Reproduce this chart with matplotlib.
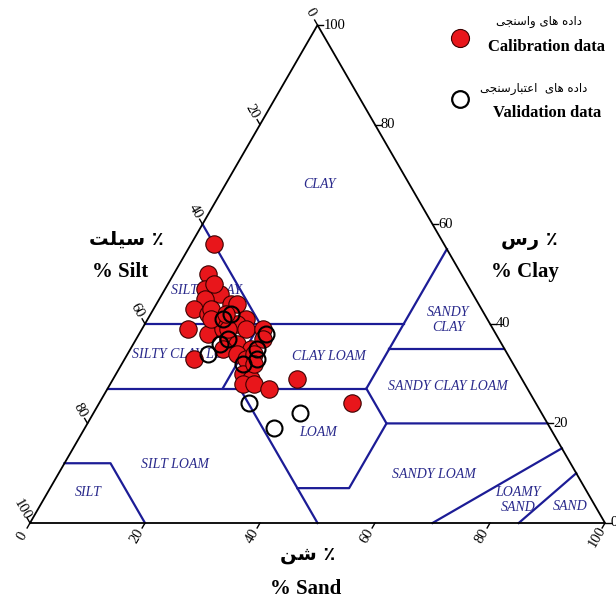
import numpy as np
import matplotlib
matplotlib.use("Agg")
import matplotlib.pyplot as plt

plt.rcParams['font.family'] = ['Liberation Serif', 'DejaVu Sans']

# ---------------- data (percent) ----------------
cal_sand = [4, 6, 7, 10, 8, 7, 10, 10, 13, 14, 17, 8, 12, 14, 16, 18, 21, 16, 18, 21,
            22, 12, 16, 19, 21, 22, 22, 24, 23, 25, 28, 32, 15, 11, 44, 13, 23, 8]
cal_clay = [56, 50, 47, 46, 45, 43, 42, 43, 44, 44, 41, 39, 38, 39, 40, 39, 39, 37, 36, 35,
            37, 33, 35, 34, 33, 34, 30, 29, 28, 28, 27, 29, 39, 41, 24, 42, 32, 48]
val_sand = [13, 14, 22, 16, 15, 14, 22, 23, 21, 26, 36, 33]
val_clay = [41, 42, 38, 37, 36, 34, 35, 33, 32, 24, 22, 19]

tick_values = [0, 20, 40, 60, 80, 100]

# USDA texture class boundaries as (sand, clay) polylines
boundaries = [
    [(0, 40), (45, 40)],
    [(20, 40), (0, 60)],
    [(45, 35), (45, 55)],
    [(45, 35), (65, 35)],
    [(0, 27), (45, 27)],
    [(20, 27), (20, 40)],
    [(45, 27), (45, 35)],
    [(45, 27), (52, 20), (80, 20)],
    [(23, 27), (50, 0)],
    [(43, 7), (52, 7), (52, 20)],
    [(0, 12), (8, 12), (20, 0)],
    [(70, 0), (85, 15)],
    [(85, 0), (90, 10)],
]

# Persian labels (logical order, contextual presentation forms)
fa_cal = "\uFEA9\uFE8D\uFEA9\uFEE9 \uFEEB\uFE8E\uFEEF \uFEED\uFE8D\uFEB3\uFEE8\uFEA0\uFEF0"
fa_val = ("\uFEA9\uFE8D\uFEA9\uFEE9 \uFEEB\uFE8E\uFEEF  "
          "\uFE8D\uFECB\uFE98\uFE92\uFE8E\uFEAD\uFEB3\uFEE8\uFEA0\uFEF0")
fa_silt = "\u066A \uFEB3\uFEF4\uFEE0\uFE96"
fa_clay = "\u066A \uFEAD\uFEB1"
fa_sand = "\u066A \uFEB7\uFEE6"


def vis(s):
    return s[::-1]


# ---------------- figure ----------------
W, H = 616, 600
PX, X0, Y0 = 5.75, 30, 523
fig = plt.figure(figsize=(W / 100, H / 100), dpi=100)
ax = fig.add_axes([0, 0, 1, 1])
ax.set_xlim(-X0 / PX, (W - X0) / PX)
ax.set_ylim(-(H - Y0) / PX, Y0 / PX)
ax.axis('off')

R3 = np.sqrt(3) / 2


def tern(sand, clay):
    sand = np.asarray(sand, float)
    clay = np.asarray(clay, float)
    return sand + clay / 2, clay * R3


def fpos(px, py):
    return px / W, 1 - py / H


# triangle
tx, ty = tern([0, 100, 0, 0], [0, 0, 100, 0])
ax.plot(tx, ty, color='black', lw=1.3, zorder=3, solid_joinstyle='miter')

# boundaries
navy = '#1c1c96'
for seg in boundaries:
    s, c = zip(*seg)
    bx, by = tern(s, c)
    ax.plot(bx, by, color=navy, lw=1.6, zorder=2)

# ticks
tick_kw = dict(fontsize=10.5, color='black', zorder=4)
dl = 1.0
for v in tick_values:
    # sand (bottom)
    x, y = tern(v, 0)
    d = np.array([-0.5, -R3])
    ax.plot([x, x + d[0] * dl], [y, y + d[1] * dl], color='black', lw=1)
    ax.text(x + d[0] * 2.7, y + d[1] * 2.7, str(v), rotation=60,
            ha='center', va='center', rotation_mode='anchor', **tick_kw)
    # silt (left)
    x, y = tern(0, 100 - v)
    d = np.array([-0.5, R3])
    ax.plot([x, x + d[0] * dl], [y, y + d[1] * dl], color='black', lw=1)
    ax.text(x + d[0] * 2.6, y + d[1] * 2.6, str(v), rotation=-60,
            ha='center', va='center', rotation_mode='anchor', **tick_kw)
    # clay (right)
    x, y = tern(100 - v, v)
    ax.plot([x, x + dl], [y, y], color='black', lw=1)
    ax.text(x + 1.0, y, str(v), ha='left', va='center', **tick_kw)

# class names
cls_kw = dict(fontsize=10, style='italic', color='#2a2a8c', ha='center', va='center',
              transform=fig.transFigure, zorder=1, linespacing=1.25)
class_labels = [
    ("CLAY", 319, 184), ("SILTY CLAY", 206, 291), ("SILTY CLAY LOAM", 188, 355),
    ("CLAY LOAM", 329, 356), ("SANDY\nCLAY", 448, 320), ("SANDY CLAY LOAM", 448, 386),
    ("LOAM", 318, 433), ("SILT LOAM", 175, 465), ("SILT", 88, 493),
    ("SANDY LOAM", 434, 474), ("LOAMY\nSAND", 518, 500), ("SAND", 570, 506),
]
for txt, px, py in class_labels:
    ax.text(*fpos(px, py), txt, **cls_kw)

# data points
cx, cy = tern(cal_sand, cal_clay)
ax.plot(cx, cy, 'o', ms=12.5, mfc='#e8161b', mec='#3a0000', mew=0.8, zorder=5, ls='none')
vx, vy = tern(val_sand, val_clay)
ax.plot(vx, vy, 'o', ms=11.5, mfc='none', mec='black', mew=1.5, zorder=6, ls='none')

# axis titles
fa_kw = dict(family=['DejaVu Sans'], fontsize=14, fontweight='bold', ha='center',
             va='center', transform=fig.transFigure)
en_kw = dict(fontsize=15, fontweight='bold', ha='center', va='center',
             transform=fig.transFigure)
ax.text(*fpos(126, 239), vis(fa_silt), **fa_kw)
ax.text(*fpos(120, 272), "% Silt", **en_kw)
ax.text(*fpos(529, 241), vis(fa_clay), **fa_kw)
ax.text(*fpos(525, 272), "% Clay", **en_kw)
ax.text(*fpos(308, 555), vis(fa_sand), **fa_kw)
ax.text(*fpos(306, 589), "% Sand", **en_kw)

# legend
ax.plot(*fpos(460, 38), 'o', ms=13, mfc='#e8161b', mec='#3a0000', mew=0.8,
        transform=fig.transFigure, clip_on=False)
ax.plot(*fpos(460, 99), 'o', ms=12, mfc='none', mec='black', mew=1.6,
        transform=fig.transFigure, clip_on=False)
ax.text(*fpos(539, 22), vis(fa_cal), family=['DejaVu Sans'], fontsize=8.5,
        ha='center', va='center', transform=fig.transFigure)
ax.text(*fpos(547, 47), "Calibration data", fontsize=12, fontweight='bold',
        ha='center', va='center', transform=fig.transFigure)
ax.text(*fpos(534, 88), vis(fa_val), family=['DejaVu Sans'], fontsize=8.5,
        ha='center', va='center', transform=fig.transFigure)
ax.text(*fpos(547, 113), "Validation data", fontsize=12, fontweight='bold',
        ha='center', va='center', transform=fig.transFigure)

fig.savefig('out.png', dpi=100)
